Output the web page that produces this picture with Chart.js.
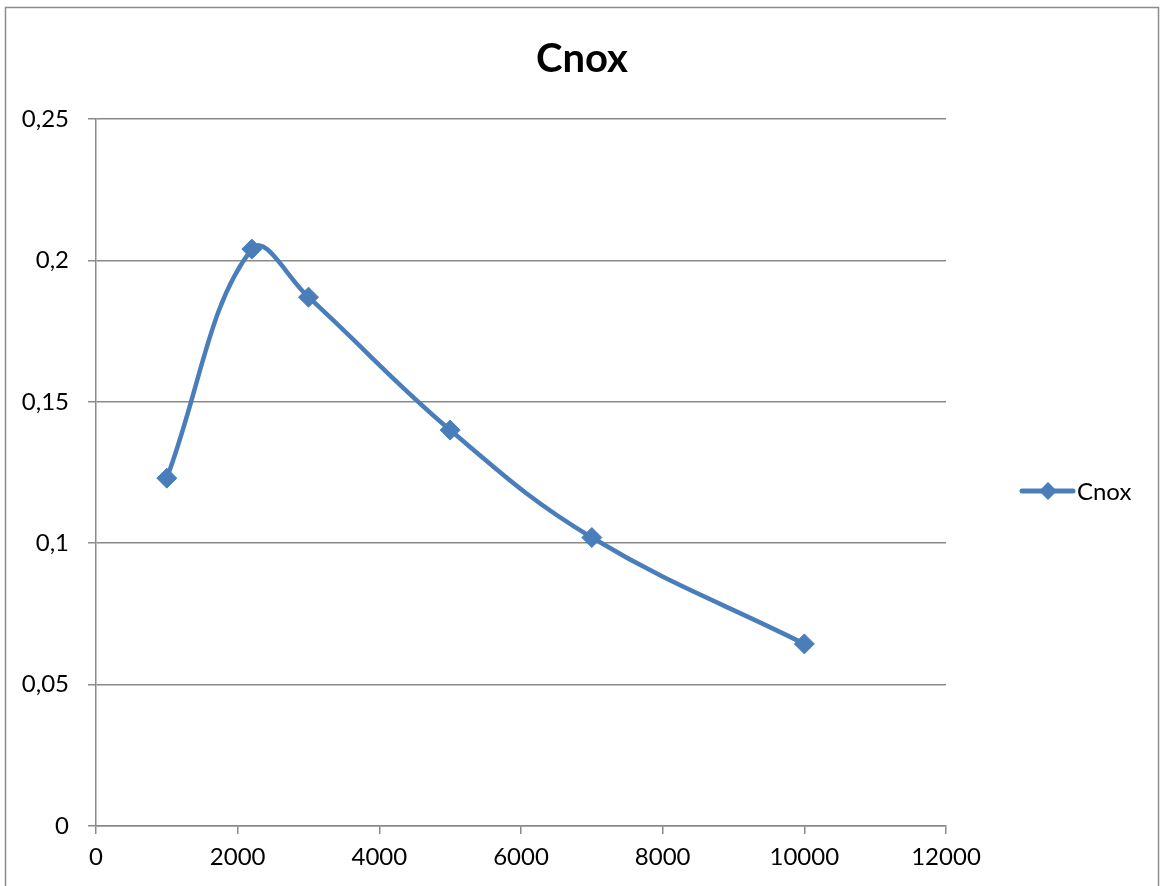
<!DOCTYPE html>
<html>
<head>
<meta charset="utf-8">
<title>Cnox</title>
<script src="https://cdn.jsdelivr.net/npm/chart.js@4.4.0/dist/chart.umd.min.js"></script>
<style>
    html, body { margin: 0; padding: 0; background: #fff; }
    #wrap { width: 1161px; height: 886px; position: relative; }
</style>
</head>
<body>
<div id="wrap"><canvas id="chartCnox"></canvas></div>
<script>
// Data
const xValues = [1000, 2200, 3000, 5000, 7000, 10000];
const cnoxValues = [0.123, 0.204, 0.187, 0.140, 0.102, 0.0644];
const seriesName = 'Cnox';
const chartTitle = 'Cnox';

const FONT = 'Lato, "Liberation Sans", sans-serif';
const BLUE = '#4a7ebb';
const GRID = '#8a8a8a';

// Format numbers with a decimal comma like the original
function commaNum(v) {
    return String(Math.round(v * 100) / 100).replace('.', ',');
}

// Outer frame, title and the right-hand legend
const decorPlugin = {
    id: 'decor',
    beforeDraw(chart) {
        const ctx = chart.ctx;
        ctx.save();
        ctx.strokeStyle = '#8c8c8c';
        ctx.lineWidth = 1.5;
        ctx.strokeRect(5.5, 7.5, 1153, 900);
        ctx.restore();
    },
    afterDraw(chart) {
        const ctx = chart.ctx;
        const ds = chart.data.datasets[0];
        ctx.save();
        // title
        ctx.fillStyle = '#000';
        ctx.font = 'bold 40px ' + FONT;
        ctx.textAlign = 'center';
        ctx.textBaseline = 'middle';
        ctx.fillText(chartTitle, 582, 59);

        // legend
        const ly = 491;
        ctx.strokeStyle = ds.borderColor;
        ctx.lineWidth = 5;
        ctx.lineCap = 'round';
        ctx.beginPath();
        ctx.moveTo(1022, ly);
        ctx.lineTo(1073, ly);
        ctx.stroke();
        ctx.fillStyle = ds.borderColor;
        ctx.beginPath();
        ctx.moveTo(1048, ly - 9);
        ctx.lineTo(1057, ly);
        ctx.lineTo(1048, ly + 9);
        ctx.lineTo(1039, ly);
        ctx.closePath();
        ctx.fill();
        ctx.fillStyle = '#000';
        ctx.font = '24px ' + FONT;
        ctx.textAlign = 'left';
        ctx.fillText(ds.label, 1077, ly + 1);
        ctx.restore();
    }
};

document.addEventListener('DOMContentLoaded', () => {
    const ctx = document.getElementById('chartCnox').getContext('2d');
    new Chart(ctx, {
        type: 'line',
        data: {
            datasets: [{
                label: seriesName,
                data: xValues.map((x, i) => ({ x: x, y: cnoxValues[i] })),
                borderColor: BLUE,
                backgroundColor: BLUE,
                borderWidth: 4.5,
                tension: 0.4,
                pointStyle: 'rectRot',
                pointRadius: 10,
                pointBorderWidth: 1,
                pointBackgroundColor: BLUE,
                pointBorderColor: BLUE,
                fill: false
            }]
        },
        options: {
            responsive: true,
            maintainAspectRatio: false,
            animation: false,
            layout: {
                padding: { left: 0, right: 215, top: 119, bottom: 0 }
            },
            plugins: {
                legend: { display: false },
                title: { display: false },
                tooltip: { enabled: false }
            },
            scales: {
                x: {
                    type: 'linear',
                    min: 0,
                    max: 12000,
                    afterFit: (scale) => { scale.height = 60; },
                    ticks: {
                        stepSize: 2000,
                        color: '#000',
                        padding: 9,
                        maxRotation: 0,
                        callback: (v) => String(v),
                        font: { family: FONT, size: 24 }
                    },
                    grid: {
                        drawOnChartArea: false,
                        drawTicks: true,
                        tickLength: 8,
                        color: GRID,
                        lineWidth: 1.5
                    },
                    border: { color: GRID, width: 1.5 }
                },
                y: {
                    min: 0,
                    max: 0.25,
                    afterFit: (scale) => { scale.width = 96; },
                    ticks: {
                        stepSize: 0.05,
                        color: '#000',
                        padding: 19,
                        callback: (v) => commaNum(v),
                        font: { family: FONT, size: 24 }
                    },
                    grid: {
                        color: GRID,
                        lineWidth: 1.5,
                        tickLength: 8
                    },
                    border: { color: GRID, width: 1.5 }
                }
            }
        },
        plugins: [decorPlugin]
    });
});
</script>
</body>
</html>
